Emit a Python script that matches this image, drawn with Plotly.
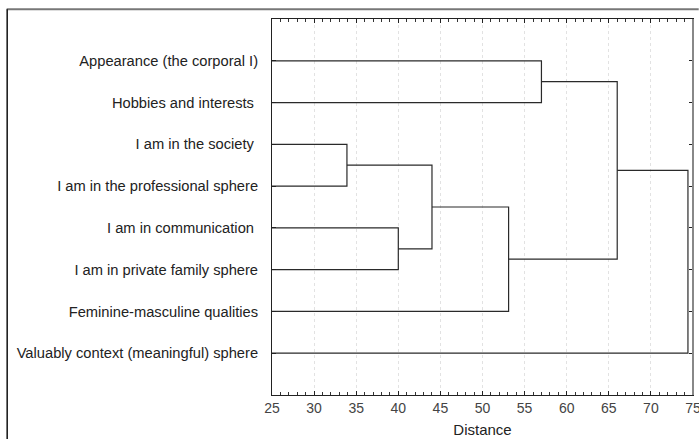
import plotly.graph_objects as go

# Leaves, top to bottom
leaves = [
    "Appearance (the corporal I)",
    "Hobbies and interests\u00a0",
    "I am in the society\u00a0",
    "I am in the professional sphere",
    "I am in communication\u00a0",
    "I am in private family sphere",
    "Feminine-masculine qualities",
    "Valuably context (meaningful) sphere",
]
# Linkage: (left node, right node, distance); nodes 0-7 are leaves, 8+ are clusters
merge_left = [2, 4, 8, 10, 0, 12, 13]
merge_right = [3, 5, 9, 6, 1, 11, 7]
merge_dist = [33.9, 40.0, 44.0, 53.1, 57.0, 66.0, 74.4]
x_ticks = [25, 30, 35, 40, 45, 50, 55, 60, 65, 70, 75]

n = len(leaves)
pos_y = {i: i + 1 for i in range(n)}
pos_x = {i: 25 for i in range(n)}
xs, ys = [], []
for k, (a, b, d) in enumerate(zip(merge_left, merge_right, merge_dist)):
    ya, yb = pos_y[a], pos_y[b]
    xa, xb = pos_x[a], pos_x[b]
    xs += [xa, d, d, xb, None]
    ys += [ya, ya, yb, yb, None]
    pos_y[n + k] = (ya + yb) / 2
    pos_x[n + k] = d

fig = go.Figure()
fig.add_trace(go.Scatter(x=xs, y=ys, mode="lines",
                         line=dict(color="#2a2a2a", width=1.2),
                         hoverinfo="skip", showlegend=False))

W, H = 699, 439
L, R, T, B = 271.7, 693.3, 18.7, 395.0
pw, ph = R - L, B - T

def px2x(p):
    return (p - L) / pw

def px2y(p):
    return (B - p) / ph

shapes = [
    # outer frame top and left
    dict(type="line", xref="paper", yref="paper", x0=px2x(6), x1=px2x(699),
         y0=px2y(9), y1=px2y(9), line=dict(color="#777", width=2)),
    dict(type="line", xref="paper", yref="paper", x0=px2x(6.5), x1=px2x(6.5),
         y0=px2y(9), y1=px2y(440), line=dict(color="#111", width=1.5)),
    # right border gray
    dict(type="line", xref="paper", yref="paper", x0=1, x1=1, y0=0, y1=1,
         line=dict(color="#888", width=2)),
]

fig.update_layout(
    width=W, height=H,
    margin=dict(l=L, r=W - R, t=T, b=H - B, pad=0, autoexpand=False),
    paper_bgcolor="white", plot_bgcolor="white",
    font=dict(family="Liberation Sans, Arial, sans-serif", size=15, color="#222"),
    shapes=shapes,
    xaxis=dict(
        range=[25, 75], tickvals=x_ticks, ticktext=[str(v) for v in x_ticks],
        showline=True, linecolor="#222", linewidth=1, mirror="ticks",
        ticks="inside", ticklen=4, tickcolor="#222", automargin=False,
        minor=dict(dtick=1, ticks="inside", ticklen=3, tickcolor="#333", showgrid=False),
        showgrid=True, gridcolor="#e2e2e2", griddash="dot", gridwidth=1,
        zeroline=False, tickfont=dict(size=14, color="#444"),
        ticklabeloverflow="allow",
        title=dict(text="Distance", font=dict(size=15, color="#222"), standoff=9),
    ),
    yaxis=dict(
        range=[9, 0], tickvals=list(range(1, n + 1)), ticktext=leaves,
        showline=True, linecolor="#222", linewidth=1, mirror="ticks",
        ticks="inside", ticklen=4, tickcolor="#222", automargin=False,
        showgrid=False, zeroline=False, ticklabelstandoff=10,
        tickfont=dict(size=14.7, color="#222"),
    ),
)

fig.write_html("out.html", config={"displayModeBar": False},
               post_script="document.body.style.margin='0';document.body.style.overflow='hidden';")
